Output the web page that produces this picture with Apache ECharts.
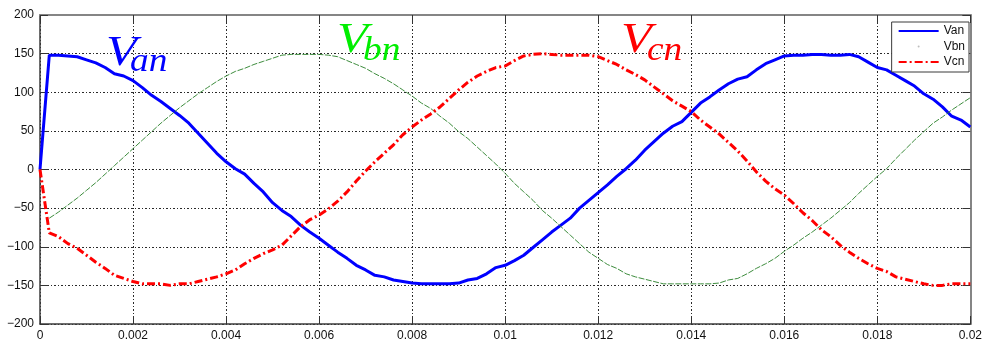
<!DOCTYPE html>
<html>
<head>
<meta charset="utf-8">
<title>Phase voltages Van, Vbn, Vcn</title>
<script src="https://cdn.jsdelivr.net/npm/echarts@6/dist/echarts.min.js"></script>
<style>
  html, body { margin: 0; padding: 0; background: #ffffff; }
  #chart { width: 985px; height: 343px; }
</style>
</head>
<body>
<div id="chart"></div>
<script>
// Sample instants (s)
const time = [
  0.0000, 0.0002, 0.0004, 0.0006, 0.0008, 0.0010, 0.0012, 0.0014, 0.0016, 0.0018,
  0.0020, 0.0022, 0.0024, 0.0026, 0.0028, 0.0030, 0.0032, 0.0034, 0.0036, 0.0038,
  0.0040, 0.0042, 0.0044, 0.0046, 0.0048, 0.0050, 0.0052, 0.0054, 0.0056, 0.0058,
  0.0060, 0.0062, 0.0064, 0.0066, 0.0068, 0.0070, 0.0072, 0.0074, 0.0076, 0.0078,
  0.0080, 0.0082, 0.0084, 0.0086, 0.0088, 0.0090, 0.0092, 0.0094, 0.0096, 0.0098,
  0.0100, 0.0102, 0.0104, 0.0106, 0.0108, 0.0110, 0.0112, 0.0114, 0.0116, 0.0118,
  0.0120, 0.0122, 0.0124, 0.0126, 0.0128, 0.0130, 0.0132, 0.0134, 0.0136, 0.0138,
  0.0140, 0.0142, 0.0144, 0.0146, 0.0148, 0.0150, 0.0152, 0.0154, 0.0156, 0.0158,
  0.0160, 0.0162, 0.0164, 0.0166, 0.0168, 0.0170, 0.0172, 0.0174, 0.0176, 0.0178,
  0.0180, 0.0182, 0.0184, 0.0186, 0.0188, 0.0190, 0.0192, 0.0194, 0.0196, 0.0198,
  0.0200
];

// Phase a voltage (V)
const van = [
  0, 148, 148, 147, 146, 142, 138, 132, 124, 121,
  115, 106, 96, 88, 79, 70, 60, 47, 34, 21,
  10, 1, -6, -18, -29, -43, -53, -61, -72, -81,
  -89, -98, -107, -115, -124, -130, -137, -139, -143, -145,
  -147, -148, -148, -148, -148, -147, -143, -141, -135, -127,
  -124, -118, -111, -101, -91, -81, -72, -63, -50, -40,
  -30, -20, -9, 1, 12, 25, 36, 47, 56, 62,
  74, 86, 94, 103, 111, 117, 120, 129, 137, 142,
  147, 148, 148, 149, 149, 148, 148, 149, 146, 139,
  132, 129, 122, 115, 108, 98, 91, 81, 69, 64,
  55
];

// Phase b voltage (V); first instant has no sample
const vbn = [
  null, -63, -55, -46, -37, -27, -17, -6, 5, 16,
  27, 38, 49, 60, 70, 80, 89, 98, 106, 114,
  121, 127, 131, 136, 140, 144, 148, 149, 149, 149,
  149, 148, 146, 141, 136, 131, 124, 118, 111, 103,
  95, 86, 79, 69, 60, 49, 40, 29, 18, 7,
  -5, -18, -29, -40, -53, -63, -74, -85, -96, -107,
  -115, -123, -128, -135, -139, -142, -145, -148, -148, -148,
  -148, -148, -148, -147, -143, -141, -135, -128, -122, -115,
  -106, -98, -89, -81, -72, -63, -53, -43, -31, -20,
  -9, 1, 14, 26, 38, 49, 60, 68, 77, 85,
  93
];

// Phase c voltage (V)
const vcn = [
  0, -82, -87, -96, -102, -111, -120, -128, -137, -141,
  -145, -148, -148, -148, -150, -148, -148, -145, -142, -139,
  -135, -130, -122, -115, -109, -104, -98, -86, -74, -65,
  -59, -51, -41, -29, -15, -2, 10, 21, 32, 45,
  55, 64, 72, 81, 92, 103, 113, 121, 127, 132,
  134, 141, 147, 149, 150, 149, 148, 148, 148, 148,
  146, 141, 136, 129, 123, 116, 107, 98, 89, 82,
  75, 64, 55, 46, 35, 24, 11, -3, -15, -25,
  -33, -44, -56, -66, -78, -87, -98, -107, -115, -122,
  -128, -132, -139, -142, -145, -148, -150, -150, -148, -148,
  -148
];

const seriesNames = ['Van', 'Vbn', 'Vcn'];

// Axis ranges and tick spacing
const xRange = [0, 0.02];
const xStep = 0.002;
const yRange = [-200, 200];
const yStep = 50;

function pairs(values) {
  const out = [];
  for (let i = 0; i < time.length; i++) {
    if (values[i] !== null) out.push([time[i], values[i]]);
  }
  return out;
}

const labelFont = { fontFamily: 'Liberation Sans', fontSize: 12, color: '#111111' };
const gridDash = { color: '#2a2a2a', width: 1, type: [2, 2, 1, 2] };

const chart = echarts.init(document.getElementById('chart'), null, { renderer: 'canvas' });

function edgeAxis(position, isX, color, width) {
  return {
    type: 'value',
    position: position,
    min: isX ? xRange[0] : yRange[0],
    max: isX ? xRange[1] : yRange[1],
    interval: isX ? xStep : yStep,
    axisLine: { show: true, onZero: false, lineStyle: { color: color, width: width } },
    axisTick: { show: true, inside: true, length: 8, lineStyle: { color: '#333333', width: 1 } },
    axisLabel: { show: false },
    splitLine: { show: false }
  };
}

const xMain = edgeAxis('bottom', true, '#3c3c3c', 1.5);
xMain.axisLabel = Object.assign({
  show: true, margin: 6,
  formatter: v => String(+v.toFixed(3))
}, labelFont);
xMain.splitLine = { show: true, lineStyle: gridDash };

const yMain = edgeAxis('left', false, '#3c3c3c', 1.5);
yMain.axisLabel = Object.assign({
  show: true, margin: 6,
  formatter: v => String(v).replace('-', '\u2212')
}, labelFont);
yMain.splitLine = { show: true, lineStyle: gridDash };

// Math-style italic annotation: a capital V with a two-letter subscript
function phaseLabel(sub, color, x, y, subDx, subDy) {
  return [
    { type: 'text', x: x, y: y, scaleX: 1.2, z: 10,
      style: { text: 'V', fill: color, font: 'italic 42px "Liberation Serif"', verticalAlign: 'middle' } },
    { type: 'text', x: x + subDx, y: y + subDy, scaleX: 1.1, z: 10,
      style: { text: sub, fill: color, font: 'italic 34px "Liberation Serif"', verticalAlign: 'middle' } }
  ];
}

const option = {
  animation: false,
  backgroundColor: '#ffffff',
  grid: { left: 40, right: 9, top: 15, bottom: 19, containLabel: false },
  xAxis: [xMain, edgeAxis('top', true, '#858585', 2)],
  yAxis: [yMain, edgeAxis('right', false, '#858585', 2)],
  legend: {
    orient: 'vertical',
    right: 16,
    top: 22,
    backgroundColor: '#ffffff',
    borderColor: '#3a3a3a',
    borderWidth: 1,
    padding: [2, 4, 3, 6],
    itemWidth: 40,
    itemHeight: 2,
    itemGap: 1.5,
    textStyle: { fontFamily: 'Liberation Sans', fontSize: 12, color: '#111111', lineHeight: 14 },
    data: [
      { name: seriesNames[0] },
      { name: seriesNames[1], icon: 'circle', itemStyle: { color: '#bdbdbd' } },
      { name: seriesNames[2] }
    ]
  },
  series: [
    {
      name: seriesNames[0], type: 'line', xAxisIndex: 0, yAxisIndex: 0,
      data: pairs(van), symbol: 'none', showSymbol: false,
      lineStyle: { color: '#0000ff', width: 3 }, itemStyle: { color: '#0000ff' },
      z: 3
    },
    {
      name: seriesNames[1], type: 'line', xAxisIndex: 0, yAxisIndex: 0,
      data: pairs(vbn), symbol: 'none', showSymbol: false,
      lineStyle: { color: 'rgba(40,128,40,0.9)', width: 1, type: [6, 1.5] },
      itemStyle: { color: '#3a8f3a' },
      z: 4
    },
    {
      name: seriesNames[2], type: 'line', xAxisIndex: 0, yAxisIndex: 0,
      data: pairs(vcn), symbol: 'none', showSymbol: false,
      lineStyle: { color: '#ff0000', width: 3, type: [8, 3, 2, 3] }, itemStyle: { color: '#ff0000' },
      z: 5
    }
  ],
  graphic: [].concat(
    phaseLabel('an', '#0000ff', 106, 54, 24, 8),
    phaseLabel('bn', '#00ee00', 337, 41, 26, 10),
    phaseLabel('cn', '#ff0000', 621, 41, 26, 10)
  )
};

chart.setOption(option);
</script>
</body>
</html>
